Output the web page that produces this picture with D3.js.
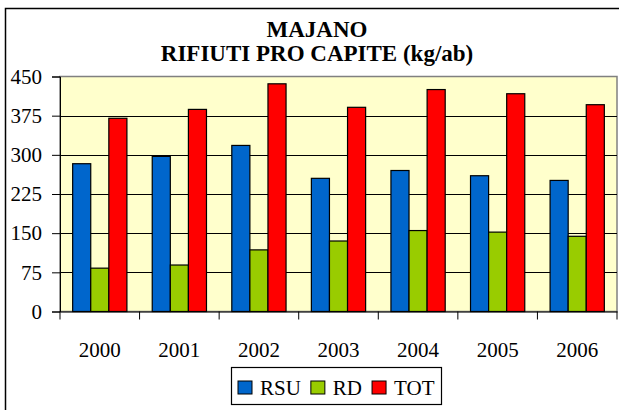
<!DOCTYPE html>
<html><head><meta charset="utf-8">
<script src="https://cdn.jsdelivr.net/npm/d3@7"></script>
<style>
html,body{margin:0;padding:0;background:#fff;}
svg text{font-family:"Liberation Serif","Times New Roman",serif !important;}
</style></head>
<body>
<svg id="c" width="619" height="410"></svg>
<script>
const years = ["2000","2001","2002","2003","2004","2005","2006"];
const seriesNames = ["RSU","RD","TOT"];
const rsu = [283, 297, 318, 255, 270, 260, 251];
const rd  = [83, 89, 118, 135, 155, 152, 144];
const tot = [370, 387, 436, 391, 425, 417, 396];
const yTicks = [0, 75, 150, 225, 300, 375, 450];
const colors = ["#0066CC","#99CC00","#FF0000"];

const seriesVals = [rsu, rd, tot];
const svg = d3.select("#c");

// outer chart border
svg.append("rect").attr("x",5.5).attr("y",8.5).attr("width",640).attr("height",420)
  .attr("fill","#fff").attr("stroke","#000").attr("stroke-width",1.5);

// plot area
const L = 60, R = 617, T = 76.5, B = 311.5;
const x = d3.scaleBand().domain(years).range([L, R]).paddingInner(0).paddingOuter(0);
const xs = d3.scaleBand().domain(seriesNames).range([0, x.bandwidth()]).paddingInner(0).paddingOuter(0.7);
const y = d3.scaleLinear().domain([0, 450]).range([B, T]);

svg.append("rect").attr("x",L).attr("y",T).attr("width",R-L).attr("height",B-T)
  .attr("fill","#FFFFCC").attr("stroke","#808080").attr("stroke-width",1.5);

// gridlines
svg.append("g").selectAll("line").data(yTicks.filter(d=>d>0 && d<450)).join("line")
  .attr("x1",L).attr("x2",R).attr("y1",d=>Math.round(y(d))+0.5).attr("y2",d=>Math.round(y(d))+0.5)
  .attr("stroke","#000").attr("stroke-width",1);

// bars
const g = svg.append("g");
years.forEach((yr,i)=>{
  seriesNames.forEach((s,j)=>{
    const v = seriesVals[j][i];
    g.append("rect")
      .attr("x", x(yr)+xs(s))
      .attr("y", y(v))
      .attr("width", xs.bandwidth())
      .attr("height", y(0)-y(v))
      .attr("fill", colors[j]).attr("stroke","#000").attr("stroke-width",1.2);
  });
});

// y axis
const yAxis = d3.axisLeft(y).tickValues(yTicks).tickSize(8).tickPadding(10);
const ya = svg.append("g").attr("transform",`translate(${L},0)`).call(yAxis);
ya.attr("font-family", null).attr("font-size", null);
ya.select(".domain").attr("stroke","#000");
ya.selectAll("text").attr("fill","#000").style("font-size","21px");

// x axis
const xAxis = d3.axisBottom(x).tickSize(0).tickPadding(0);
const xa = svg.append("g").attr("transform",`translate(0,${B})`).call(xAxis);
xa.attr("font-family", null).attr("font-size", null);
xa.select(".domain").attr("stroke","#000");
xa.selectAll("text").attr("fill","#000").attr("dy",0).attr("y",45).style("font-size","21px");
// category tick marks
svg.append("g").selectAll("line").data(years.concat(["end"])).join("line")
  .attr("x1",(d,i)=>L+i*x.step()).attr("x2",(d,i)=>L+i*x.step())
  .attr("y1",B).attr("y2",B+8).attr("stroke","#000");

// title
svg.append("text").attr("x",317).attr("y",36.5).attr("text-anchor","middle")
  .style("font-size","23px").style("font-weight","bold").text("MAJANO");
svg.append("text").attr("x",317).attr("y",60.5).attr("text-anchor","middle")
  .style("font-size","23px").style("font-weight","bold").text("RIFIUTI PRO CAPITE (kg/ab)");

// legend
const lg = svg.append("g");
const box = lg.append("rect").attr("fill","#fff").attr("stroke","#000").attr("stroke-width",1.2);
let cx = 238;
seriesNames.forEach((s,j)=>{
  lg.append("rect").attr("x",cx).attr("y",381).attr("width",14).attr("height",13)
    .attr("fill",colors[j]).attr("stroke","#000").attr("stroke-width",1);
  const t = lg.append("text").attr("x",cx+22).attr("y",395)
    .style("font-size","21px").text(s);
  cx += 22 + t.node().getComputedTextLength() + 10;
});
box.attr("x",231.5).attr("y",367.5).attr("width",cx-10+7-231.5).attr("height",37);
</script>
</body></html>
